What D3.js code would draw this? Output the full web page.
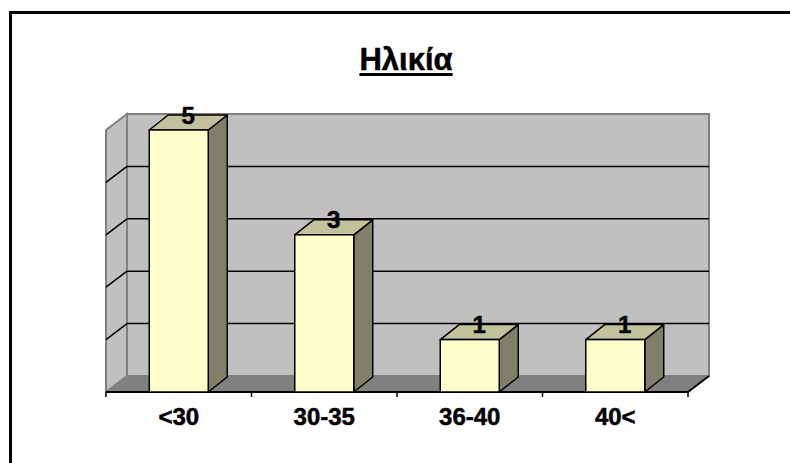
<!DOCTYPE html>
<html><head><meta charset="utf-8">
<script src="https://cdn.jsdelivr.net/npm/d3@7"></script>
<style>html,body{margin:0;padding:0;background:#fff;}svg{display:block;}</style>
</head><body>
<svg id="c" width="790" height="463"></svg>
<script>
const categories = ["<30", "30-35", "36-40", "40<"];
const values = [5, 3, 1, 1];
const yTicks = [0, 1, 2, 3, 4, 5];
const title = "Ηλικία";

const svg = d3.select("#c");
const font = "'Liberation Sans', Arial, sans-serif";

// geometry
const x0 = 106, x1 = 688, yFront0 = 392, yFrontTop = 130;
const dX = 21, dY = -16;          // wall depth
const bX = 19, bY = -15;          // bar depth
const barW = 59;

const x = d3.scaleBand().domain(categories).range([x0, x1]).padding(0);
const y = d3.scaleLinear().domain([0, 5]).range([yFront0, yFrontTop]);

// outer border
svg.append("rect").attr("x", 10.5).attr("y", 12.5).attr("width", 900).attr("height", 600)
  .attr("fill", "none").attr("stroke", "#000").attr("stroke-width", 3);

// title
const t = svg.append("text").attr("x", 406).attr("y", 70).attr("text-anchor", "middle")
  .attr("font-family", font).attr("font-weight", "bold").attr("font-size", 31)
  .attr("fill", "#000").attr("stroke", "#000").attr("stroke-width", 0.5).text(title);
const tb = t.node().getBBox();
svg.append("rect").attr("x", tb.x).attr("y", 73).attr("width", tb.width).attr("height", 3).attr("fill", "#000");

// back wall
const backTop = y(5) + dY, backBot = y(0) + dY;
svg.append("rect").attr("x", x0 + dX).attr("y", backTop).attr("width", x1 - x0).attr("height", backBot - backTop)
  .attr("fill", "#c0c0c0").attr("stroke", "#808080").attr("stroke-width", 2);
// left wall
svg.append("path").attr("d", `M${x0},${y(5)}L${x0 + dX},${y(5) + dY}L${x0 + dX},${y(0) + dY}L${x0},${y(0)}Z`)
  .attr("fill", "#c0c0c0").attr("stroke", "#808080").attr("stroke-width", 2);
// floor
svg.append("path").attr("d", `M${x0},${y(0)}L${x0 + dX},${y(0) + dY}L${x1 + dX},${y(0) + dY}L${x1},${y(0)}Z`)
  .attr("fill", "#808080").attr("stroke", "#808080").attr("stroke-width", 1);

// gridlines (back + left wall)
yTicks.filter(v => v > 0 && v < 5).forEach(v => {
  svg.append("line").attr("x1", x0 + dX).attr("x2", x1 + dX).attr("y1", y(v) + dY).attr("y2", y(v) + dY)
    .attr("stroke", "#000").attr("stroke-width", 1.5);
  svg.append("line").attr("x1", x0).attr("x2", x0 + dX).attr("y1", y(v)).attr("y2", y(v) + dY)
    .attr("stroke", "#000").attr("stroke-width", 1.5);
});

// floor right edge
svg.append("line").attr("x1", x1).attr("y1", y(0)).attr("x2", x1 + dX).attr("y2", y(0) + dY)
  .attr("stroke", "#000").attr("stroke-width", 2);

// x axis
const axisG = svg.append("g").attr("transform", `translate(0,${y(0)})`);
axisG.append("line").attr("x1", x0).attr("x2", x1).attr("y1", 0).attr("y2", 0).attr("stroke", "#000").attr("stroke-width", 2);
const boundaries = categories.map(c => x(c)).concat([x1]);
boundaries.forEach(b => {
  axisG.append("line").attr("x1", b).attr("x2", b).attr("y1", 0).attr("y2", 5).attr("stroke", "#000").attr("stroke-width", 1.5);
});
axisG.selectAll("text.cat").data(categories).enter().append("text")
  .attr("x", d => x(d) + x.bandwidth() / 2).attr("y", 33)
  .attr("text-anchor", "middle").attr("font-family", font).attr("font-weight", "bold").attr("font-size", 24)
  .attr("fill", "#000").attr("stroke", "#000").attr("stroke-width", 0.5).text(d => d);

// bars
const bars = svg.append("g");
categories.forEach((c, i) => {
  const v = values[i];
  const lx = x(c) + (x.bandwidth() - barW) / 2, rx = lx + barW;
  const top = y(v), bot = y(0);
  const g = bars.append("g");
  // side
  g.append("path").attr("d", `M${rx},${top}L${rx + bX},${top + bY}L${rx + bX},${bot + bY}L${rx},${bot}Z`)
    .attr("fill", "#80806a").attr("stroke", "#000").attr("stroke-width", 1.5).attr("stroke-linejoin", "round");
  // top
  g.append("path").attr("d", `M${lx},${top}L${lx + bX},${top + bY}L${rx + bX},${top + bY}L${rx},${top}Z`)
    .attr("fill", "#c2c29c").attr("stroke", "#000").attr("stroke-width", 1.5).attr("stroke-linejoin", "round");
  // front
  g.append("rect").attr("x", lx).attr("y", top).attr("width", barW).attr("height", bot - top)
    .attr("fill", "#ffffcc").attr("stroke", "#000").attr("stroke-width", 1.5);
  // value label
  g.append("text").attr("x", lx + barW / 2 + bX / 2).attr("y", top + bY / 2 + 1)
    .attr("text-anchor", "middle").attr("font-family", font).attr("font-weight", "bold").attr("font-size", 24)
    .attr("fill", "#000").attr("stroke", "#000").attr("stroke-width", 0.5).text(v);
});
</script>
</body></html>
